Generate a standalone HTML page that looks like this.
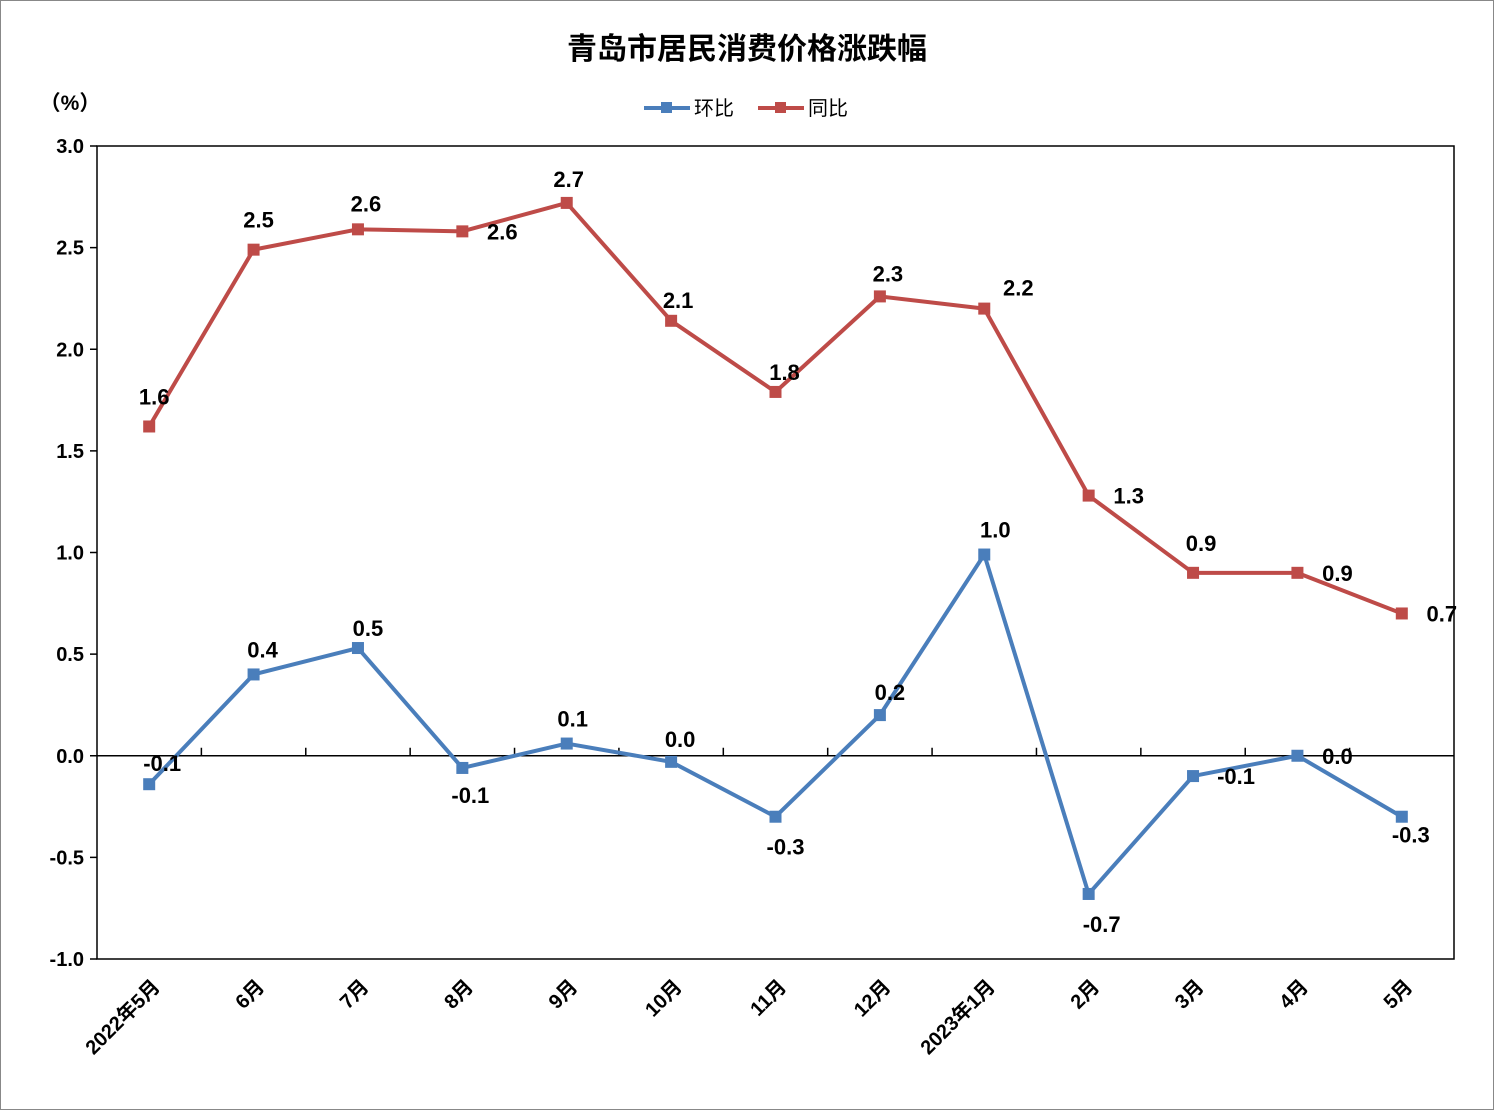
<!DOCTYPE html>
<html><head><meta charset="utf-8"><style>
html,body{margin:0;padding:0;background:#fff}
svg{display:block;font-family:"Liberation Sans","Noto Sans CJK SC",sans-serif}
</style></head><body>
<svg id="chart" width="1494" height="1110" xmlns="http://www.w3.org/2000/svg">
<rect x="0.5" y="0.5" width="1493" height="1109" fill="#fff" stroke="#888"/>
<text x="747" y="59" text-anchor="middle" font-size="30" font-weight="bold" fill="#000">青岛市居民消费价格涨跌幅</text>
<text x="70" y="110" text-anchor="middle" font-size="21" font-weight="bold">（%）</text>
<g>
<g><line x1="644" y1="108" x2="690" y2="108" stroke="#4a7ebb" stroke-width="4"/><rect x="661" y="102" width="11" height="11" fill="#4a7ebb"/><text x="694" y="115" font-size="20">环比</text></g>
<g><line x1="758" y1="108" x2="804" y2="108" stroke="#be4b48" stroke-width="4"/><rect x="775" y="102" width="11" height="11" fill="#be4b48"/><text x="808" y="115" font-size="20">同比</text></g>
</g>
<g id="plot"></g>
</svg>
<script>
const categories=["2022年5月","6月","7月","8月","9月","10月","11月","12月","2023年1月","2月","3月","4月","5月"];
const yoyValues=[1.62,2.49,2.59,2.58,2.72,2.14,1.79,2.26,2.2,1.28,0.9,0.9,0.7];
const momValues=[-0.14,0.4,0.53,-0.06,0.06,-0.03,-0.3,0.2,0.99,-0.68,-0.1,0.0,-0.3];
const yoyLabels=["1.6","2.5","2.6","2.6","2.7","2.1","1.8","2.3","2.2","1.3","0.9","0.9","0.7"];
const momLabels=["-0.1","0.4","0.5","-0.1","0.1","0.0","-0.3","0.2","1.0","-0.7","-0.1","0.0","-0.3"];
const yTicks=["3.0","2.5","2.0","1.5","1.0","0.5","0.0","-0.5","-1.0"];
const yoyOff=[[5,-30],[5,-30],[8,-26],[40,0],[2,-24],[7,-21],[9,-20],[8,-23],[34,-21],[40,0],[8,-30],[40,0],[40,0]];
const momOff=[[13,-21],[9,-25],[10,-20],[8,27],[6,-25],[9,-23],[10,30],[10,-23],[11,-25],[13,30],[43,0],[40,0],[9,18]];
const NS="http://www.w3.org/2000/svg";
const L=97,R=1454,T=146,B=959,yMin=-1,yMax=3;
const xs=i=>L+(R-L)/categories.length*(i+0.5);
const ys=v=>T+(yMax-v)/(yMax-yMin)*(B-T);
const g=document.getElementById('plot');
function mk(t,a,txt){const e=document.createElementNS(NS,t);for(const k in a)e.setAttribute(k,a[k]);if(txt!==undefined)e.textContent=txt;g.appendChild(e);return e;}
let e=mk('rect',{x:L,y:T,width:R-L,height:B-T,fill:'none',stroke:'#000','stroke-width':1.5});


yTicks.forEach(t=>{const y=ys(parseFloat(t));
let l=mk('line',{x1:L-7,x2:L,y1:y,y2:y,stroke:'#000','stroke-width':1.5});


let tx=mk('text',{x:L-13,y:y+7,'text-anchor':'end','font-size':20,'font-weight':'bold'},t);

});
e=mk('line',{x1:L,x2:R,y1:ys(0),y2:ys(0),stroke:'#000','stroke-width':1.5});


const bw=(R-L)/categories.length;
categories.forEach((c,i)=>{
 if(i>0){let t=mk('line',{x1:L+bw*i,x2:L+bw*i,y1:ys(0)-8,y2:ys(0),stroke:'#000','stroke-width':1.5});
 
 }
 const x=xs(i)+12,y=988;
 let tx=mk('text',{x:x,y:y,'text-anchor':'end','font-size':20,'font-weight':'bold',transform:`rotate(-45 ${x} ${y})`},c);
 
 
});
function series(vals,labs,off,color,name){
 const pts=vals.map((v,i)=>xs(i)+','+ys(v)).join(' ');
 let p=mk('polyline',{points:pts,fill:'none',stroke:color,'stroke-width':4,'stroke-linejoin':'round'});
 
 
 vals.forEach((v,i)=>{
  let m=mk('rect',{x:xs(i)-6,y:ys(v)-6,width:12,height:12,fill:color});
  
  
  let t=mk('text',{x:xs(i)+off[i][0],y:ys(v)+off[i][1]+8,'text-anchor':'middle','font-size':22,'font-weight':'bold'},labs[i]);
  
  
 });
}
series(yoyValues,yoyLabels,yoyOff,'#be4b48','yoy');
series(momValues,momLabels,momOff,'#4a7ebb','mom');
</script>
</body></html>
